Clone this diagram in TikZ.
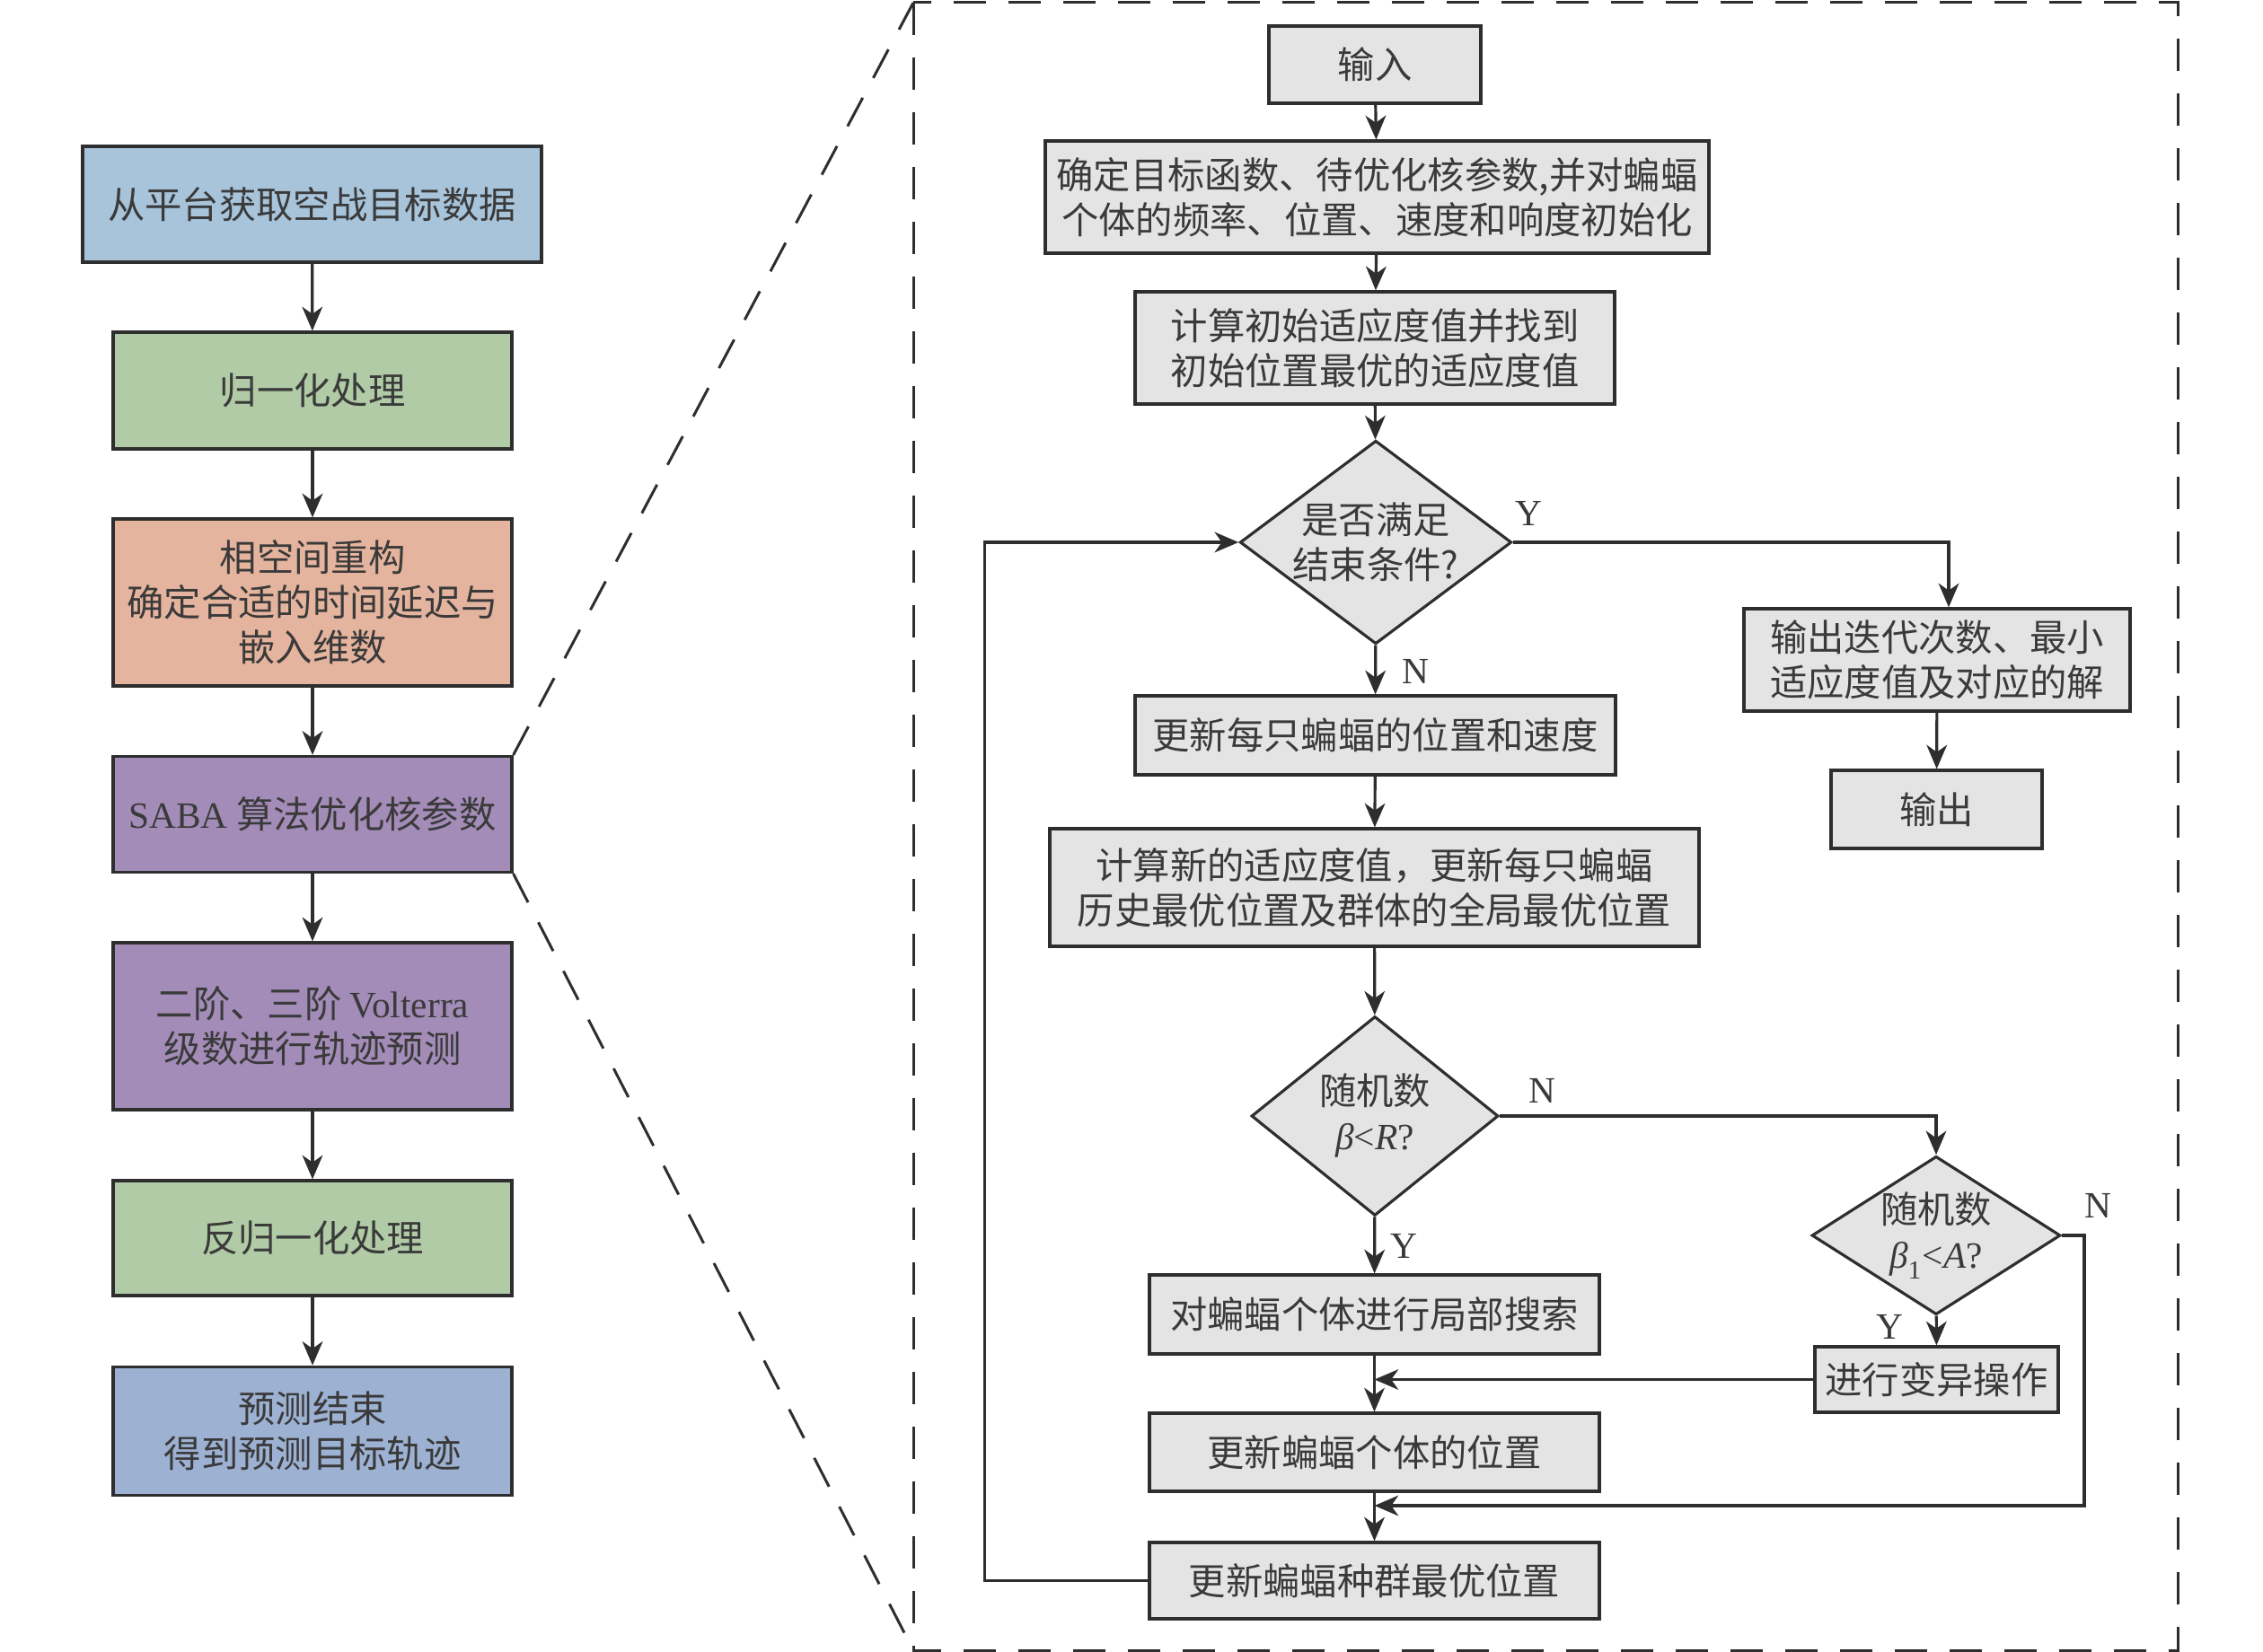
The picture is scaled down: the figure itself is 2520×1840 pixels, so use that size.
\documentclass[tikz,border=0pt]{standalone}
\usepackage{fontspec}
\setmainfont{Liberation Serif}
\newfontfamily\cjk{Noto Sans CJK SC}
\usetikzlibrary{arrows.meta,shapes.geometric}
\definecolor{lc}{HTML}{2E2E2E}
\definecolor{tc}{HTML}{3A3A3A}
\definecolor{gbox}{HTML}{E5E4E5}
\definecolor{cblue}{HTML}{A8C4DB}
\definecolor{cgreen}{HTML}{B0CBA5}
\definecolor{csalmon}{HTML}{E5B49E}
\definecolor{cpurple}{HTML}{A38CB8}
\definecolor{cblueb}{HTML}{9DB1D3}
\begin{document}
\begin{tikzpicture}[x=0.3pt,y=-0.3pt,
  base/.style={draw=lc,line width=0.95pt,text=tc,align=center,inner sep=0pt,
    font=\cjk\fontsize{12.4}{15}\selectfont},
  gbx/.style={base,fill=gbox},
  dia/.style={base,fill=gbox,shape=diamond},
  arr/.style={draw=lc,line width=0.95pt,-{Stealth[length=8pt,width=6.8pt,inset=2.4pt]}},
  frame/.style={draw=lc,line width=0.9pt,dash pattern=on 10.8pt off 7.5pt},
  lab/.style={text=tc,inner sep=0pt,font=\rmfamily\fontsize{12.4}{15}\selectfont}]
\fill[white] (0,0) rectangle (2520,1840);
\useasboundingbox (0,0) rectangle (2520,1840);
% left column
\node[base,fill=cblue,minimum width=153.3pt,minimum height=38.7pt] (b1) at (347.5,227.5) {从平台获取空战目标数据};
\node[base,fill=cgreen,minimum width=133.2pt,minimum height=39pt] (b2) at (348,435) {归一化处理};
\node[base,fill=csalmon,minimum width=133.2pt,minimum height=55.8pt] (b3) at (348,671) {相空间重构\\确定合适的时间延迟与\\嵌入维数};
\node[base,fill=cpurple,minimum width=133.2pt,minimum height=38.7pt] (b4) at (348,907) {{\rmfamily SABA} 算法优化核参数};
\node[base,fill=cpurple,minimum width=133.2pt,minimum height=55.8pt] (b5) at (348,1143) {二阶、三阶 {\rmfamily Volterra}\\级数进行轨迹预测};
\node[base,fill=cgreen,minimum width=133.2pt,minimum height=38.4pt] (b6) at (348,1379) {反归一化处理};
\node[base,fill=cblueb,minimum width=133.2pt,minimum height=43pt] (b7) at (348,1594) {预测结束\\得到预测目标轨迹};
\draw[arr] (b1) -- (b2);
\draw[arr] (b2) -- (b3);
\draw[arr] (b3) -- (b4);
\draw[arr] (b4) -- (b5);
\draw[arr] (b5) -- (b6);
\draw[arr] (b6) -- (b7);
% dashed frame
\coordinate (ftl) at (1017,3);
\coordinate (fbr) at (2425,1838);
\coordinate (fbl) at (1017,1838);
\draw[frame] (ftl) rectangle (fbr);
\draw[frame] (b4.north east) -- (ftl);
\draw[frame] (b4.south east) -- (fbl);
% right flowchart
\node[gbx,minimum width=70.8pt,minimum height=25.8pt] (r1) at (1531,72) {输入};
\node[gbx,minimum width=221.7pt,minimum height=37.5pt] (r2) at (1533.5,219.5) {确定目标函数、待优化核参数,并对蝙蝠\\个体的频率、位置、速度和响度初始化};
\node[gbx,minimum width=160.2pt,minimum height=37.5pt] (r3) at (1531,387.5) {计算初始适应度值并找到\\初始位置最优的适应度值};
\node[dia,minimum width=89.7pt,minimum height=67.2pt,aspect=1.335] (d1) at (1532,604) {是否满足\\结束条件?};
\node[gbx,minimum width=160.5pt,minimum height=26.4pt] (r4) at (1531.5,819) {更新每只蝙蝠的位置和速度};
\node[gbx,minimum width=216.9pt,minimum height=39.3pt] (r5) at (1530.5,988.5) {计算新的适应度值，更新每只蝙蝠\\历史最优位置及群体的全局最优位置};
\node[dia,minimum width=82.5pt,minimum height=66.6pt,aspect=1.24] (d2) at (1531,1243) {随机数\\{\rmfamily\itshape β}{\rmfamily <}{\rmfamily\itshape R}{\rmfamily ?}};
\node[gbx,minimum width=150.3pt,minimum height=26.4pt] (r6) at (1530.5,1464) {对蝙蝠个体进行局部搜索};
\node[gbx,minimum width=150.3pt,minimum height=26.1pt] (r7) at (1530.5,1617.5) {更新蝙蝠个体的位置};
\node[gbx,minimum width=150.3pt,minimum height=25.5pt] (r8) at (1530.5,1760.5) {更新蝙蝠种群最优位置};
\node[dia,minimum width=82.5pt,minimum height=52.5pt,aspect=1.57] (d3) at (2156,1376) {随机数\\{\rmfamily\itshape β}{\rmfamily\raisebox{-0.35ex}{\textsubscript{1}}<}{\rmfamily\itshape A}{\rmfamily ?}};
\node[gbx,minimum width=81.3pt,minimum height=21.9pt] (r9) at (2156.5,1536.5) {进行变异操作};
\node[gbx,minimum width=129pt,minimum height=34.2pt] (r10) at (2157,735) {输出迭代次数、最小\\适应度值及对应的解};
\node[gbx,minimum width=70.5pt,minimum height=26.1pt] (r11) at (2156.5,901.5) {输出};
\draw[arr] (r1) -- (r2);
\draw[arr] (r2) -- (r3);
\draw[arr] (r3) -- (d1);
\draw[arr] (d1) -- (r4);
\draw[arr] (r4) -- (r5);
\draw[arr] (r5) -- (d2);
\draw[arr] (d2) -- (r6);
\draw[arr] (r6) -- (r7);
\draw[arr] (r7) -- (r8);
\draw[arr] (d1.east) -| ([xshift=3.9pt]r10.north);
\draw[arr] (r10) -- (r11);
\draw[arr] (d2.east) -| (d3.north);
\draw[arr] (d3) -- (r9);
\draw[arr] (r9.west) -- (r6.south |- r9.west);
\coordinate (j2) at (1530.5,1677);
\draw[arr] (d3.east) -- ++(25,0) |- (j2);
\draw[arr] (r8.west) -- ++(-182,0) |- (d1.west);
% labels
\node[lab] (lY1) at (1702,572) {Y};
\node[lab] (lN1) at (1576,748) {N};
\node[lab] (lN2) at (1717,1215) {N};
\node[lab] (lY2) at (1563,1388) {Y};
\node[lab] (lN3) at (2336,1343) {N};
\node[lab] (lY3) at (2104,1478) {Y};
\end{tikzpicture}
\end{document}
